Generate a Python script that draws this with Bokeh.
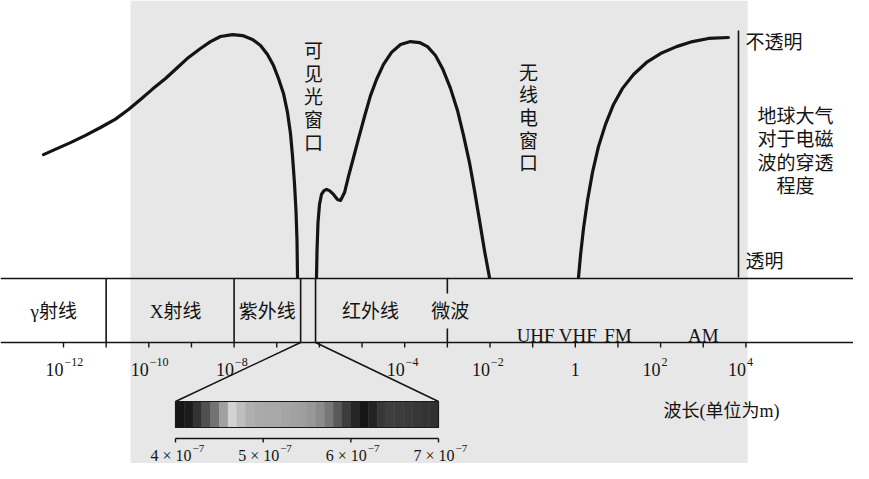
from bokeh.plotting import figure
from bokeh.models import Range1d
from bokeh.embed import file_html
from bokeh.resources import INLINE
from bokeh.core.properties import value

# ---------------- data ----------------
# x is log10(wavelength / m); y is atmospheric opacity (0 = transparent, 1 = opaque)
decades = list(range(-12, 5))
label_exps = [-12, -10, -8, -4, -2, 0, 2, 4]
label_exp_text = ["−12", "−10", "−8", "−4", "−2", "", "2", "4"]

band_edges = [-11.0, -8.0, -6.44, -6.09]
microwave_edge = -3.0
band_names = ["γ射线", "X射线", "紫外线", "红外线", "微波"]
band_label_x = [-12.23, -9.37, -7.22, -4.80, -2.93]
radio_names = ["UHF", "VHF", "FM", "AM"]
radio_x = [-0.93, 0.06, 1.0, 3.0]

curve1_x = [-12.469, -12.141, -11.836, -11.484, -11.132, -10.781, -10.476, -10.195,
            -9.913, -9.608, -9.327, -9.069, -8.788, -8.553, -8.319, -8.038,
            -7.803, -7.569, -7.381, -7.217, -7.076, -6.959, -6.842, -6.748,
            -6.678, -6.631, -6.584, -6.549, -6.525, -6.513]
curve1_y = [0.512, 0.538, 0.562, 0.592, 0.625, 0.660, 0.700, 0.742,
            0.785, 0.829, 0.875, 0.917, 0.954, 0.983, 1.004, 1.012,
            1.008, 0.992, 0.967, 0.929, 0.883, 0.829, 0.767, 0.688,
            0.600, 0.508, 0.392, 0.279, 0.154, 0.0]

curve2_x = [-6.068, -6.056, -6.033, -5.998, -5.951, -5.892, -5.833, -5.763,
            -5.669, -5.576, -5.505, -5.411, -5.318, -5.200, -5.083, -4.942,
            -4.802, -4.661, -4.497, -4.309, -4.098, -3.864, -3.653, -3.465,
            -3.278, -3.114, -2.926, -2.762, -2.621, -2.481, -2.363, -2.246,
            -2.129, -2.012]
curve2_y = [0.0, 0.112, 0.229, 0.304, 0.346, 0.362, 0.367, 0.362,
            0.346, 0.325, 0.321, 0.354, 0.421, 0.500, 0.579, 0.671,
            0.758, 0.825, 0.888, 0.938, 0.971, 0.983, 0.979, 0.962,
            0.925, 0.871, 0.788, 0.696, 0.592, 0.479, 0.362, 0.238,
            0.112, 0.0]

curve3_x = [0.075, 0.122, 0.192, 0.286, 0.403, 0.544, 0.708, 0.896,
            1.107, 1.365, 1.669, 1.998, 2.373, 2.748, 3.123, 3.592]
curve3_y = [0.0, 0.092, 0.204, 0.321, 0.438, 0.546, 0.638, 0.721,
            0.788, 0.846, 0.896, 0.933, 0.962, 0.983, 0.996, 1.0]

# visible spectrum inset (nm)
vis_ticks = [400, 500, 600, 700]
vis_mantissa = ["4 × 10", "5 × 10", "6 × 10", "7 × 10"]
vis_exp = ["−7", "−7", "−7", "−7"]
spec_edges = list(range(400, 701, 10))
spec_gray = [22, 28, 50, 80, 115, 160, 210, 190, 175, 170,
             168, 168, 165, 162, 158, 152, 140, 120, 90, 60,
             38, 22, 35, 55, 62, 60, 58, 55, 52, 48]

right_axis_x = 3.826
right_label_x = 3.99
right_block_x = 5.163

# ---------------- layout ----------------
W, H = 853, 463
PX_PER_DEC = 42.65
X0 = -12 - 63 / PX_PER_DEC
X1 = X0 + W / PX_PER_DEC
PX_PER_OP = 240.0
Y1 = 277 / PX_PER_OP
Y0 = Y1 - H / PX_PER_OP

def ry(refy):
    return (277 - refy) / PX_PER_OP

# inset range: 400 nm -> frame px 175, 700 nm -> frame px 438
span = 300 * W / (438 - 175)
S = 400 - 175 * span / W
E = S + span

def nm_to_L(nm):
    return X0 + (nm - S) / (E - S) * (X1 - X0)

INK = "#141414"
SERIF = value("Liberation Serif, Noto Sans CJK SC")
CJK = value("Noto Sans CJK SC")

p = figure(width=W, height=H, x_range=Range1d(X0, X1), y_range=Range1d(Y0, Y1),
           output_backend="svg", toolbar_location=None, min_border=0,
           x_axis_location=None, y_axis_location=None)
p.extra_x_ranges = {"vis": Range1d(S, E)}
p.grid.visible = False
p.outline_line_color = None
p.background_fill_color = "white"
p.border_fill_color = "white"

# scanned paper tint
p.quad(left=[-10.43], right=[4.04], bottom=[Y0], top=[Y1],
       fill_color="#e7e7e7", line_color=None)

# band rows
band_top, band_bot = ry(278), ry(342)
p.segment(x0=[X0, X0], x1=[X1, X1], y0=[band_top, band_bot], y1=[band_top, band_bot],
          line_color=INK, line_width=1.6)
p.segment(x0=band_edges, x1=band_edges, y0=[band_top] * 4, y1=[band_bot] * 4,
          line_color=INK, line_width=1.6)
p.segment(x0=[microwave_edge] * 2, x1=[microwave_edge] * 2,
          y0=[band_top, ry(328)], y1=[ry(293), band_bot],
          line_color=INK, line_width=1.6)

# decade ticks
p.segment(x0=decades, x1=decades, y0=[band_bot] * len(decades),
          y1=[ry(347)] * len(decades), line_color=INK, line_width=1.4)

# tick labels
base_y = ry(369)
main_lbl = [e for e in label_exps if e != 0]
main_exp = [t for e, t in zip(label_exps, label_exp_text) if e != 0]
p.text(x=main_lbl, y=[base_y] * len(main_lbl), text=["10"] * len(main_lbl),
       text_font=SERIF, text_font_size="18px", text_color=INK,
       text_align="right", text_baseline="alphabetic")
p.text(x=main_lbl, y=[base_y] * len(main_lbl), text=main_exp,
       text_font=SERIF, text_font_size="12px", text_color=INK,
       text_align="left", text_baseline="alphabetic", y_offset=-8, x_offset=1)
p.text(x=[0], y=[base_y], text=["1"], text_font=SERIF, text_font_size="18px",
       text_color=INK, text_align="center", text_baseline="alphabetic")

# band names
p.text(x=band_label_x, y=[ry(311)] * 5, text=band_names, text_font=SERIF,
       text_font_size="19px", text_color=INK, text_align="center", text_baseline="middle")
p.text(x=radio_x, y=[ry(335)] * 4, text=radio_names, text_font=SERIF,
       text_font_size="19px", text_color=INK, text_align="center", text_baseline="alphabetic")

# opacity curves
for cx, cy in [(curve1_x, curve1_y), (curve2_x, curve2_y), (curve3_x, curve3_y)]:
    p.line(cx, cy, line_color=INK, line_width=3.2, line_join="round", line_cap="round")

# right-hand opacity scale
p.segment(x0=[right_axis_x], x1=[right_axis_x], y0=[0], y1=[ry(30)],
          line_color=INK, line_width=1.6)
p.text(x=[right_label_x, right_label_x], y=[ry(40), ry(259)], text=["不透明", "透明"],
       text_font=CJK, text_font_size="19px", text_color=INK,
       text_align="left", text_baseline="middle")
p.text(x=[right_block_x], y=[ry(149)], text=["地球大气\n对于电磁\n波的穿透\n程度"],
       text_font=CJK, text_font_size="19px", text_color=INK, text_line_height=0.87,
       text_align="center", text_baseline="middle")

# window labels (vertical)
p.text(x=[-6.138], y=[ry(95)], text=["\n".join("可见光窗口")],
       text_font=CJK, text_font_size="19px", text_color=INK, text_line_height=0.86,
       text_align="center", text_baseline="middle")
p.text(x=[-1.097], y=[ry(116)], text=["\n".join("无线电窗口")],
       text_font=CJK, text_font_size="19px", text_color=INK, text_line_height=0.84,
       text_align="center", text_baseline="middle")

# connectors to the visible spectrum inset
bar_top, bar_bot = ry(401), ry(427)
p.segment(x0=[band_edges[2], band_edges[3]], y0=[band_bot, band_bot],
          x1=[nm_to_L(vis_ticks[0]), nm_to_L(vis_ticks[-1])], y1=[bar_top, bar_top],
          line_color=INK, line_width=1.5)

# spectrum bar
cols = ["#%02x%02x%02x" % (g, g, g) for g in spec_gray]
p.quad(left=spec_edges[:-1], right=spec_edges[1:], bottom=[bar_bot] * len(cols),
       top=[bar_top] * len(cols), fill_color=cols, line_color=cols, line_width=0.5,
       x_range_name="vis")
p.quad(left=[spec_edges[0]], right=[spec_edges[-1]], bottom=[bar_bot], top=[bar_top],
       fill_color=None, line_color="#1a1a1a", line_width=1.2, x_range_name="vis")

# spectrum scale
sc_y = ry(438)
p.segment(x0=[vis_ticks[0]], x1=[vis_ticks[-1]], y0=[sc_y], y1=[sc_y],
          line_color=INK, line_width=1.4, x_range_name="vis")
p.segment(x0=vis_ticks, x1=vis_ticks, y0=[sc_y] * 4, y1=[ry(442)] * 4,
          line_color=INK, line_width=1.4, x_range_name="vis")
vb = ry(455)
p.text(x=vis_ticks, y=[vb] * 4, text=vis_mantissa, text_font=SERIF, text_font_size="16px",
       text_color=INK, text_align="right", text_baseline="alphabetic", x_offset=16,
       x_range_name="vis")
p.text(x=vis_ticks, y=[vb] * 4, text=vis_exp, text_font=SERIF, text_font_size="11px",
       text_color=INK, text_align="left", text_baseline="alphabetic", x_offset=17,
       y_offset=-7, x_range_name="vis")

# axis title
p.text(x=[2.068], y=[ry(410)], text=["波长(单位为m)"], text_font=SERIF,
       text_font_size="18px", text_color=INK, text_align="left", text_baseline="middle")

open("out.html", "w").write(file_html(p, INLINE))
